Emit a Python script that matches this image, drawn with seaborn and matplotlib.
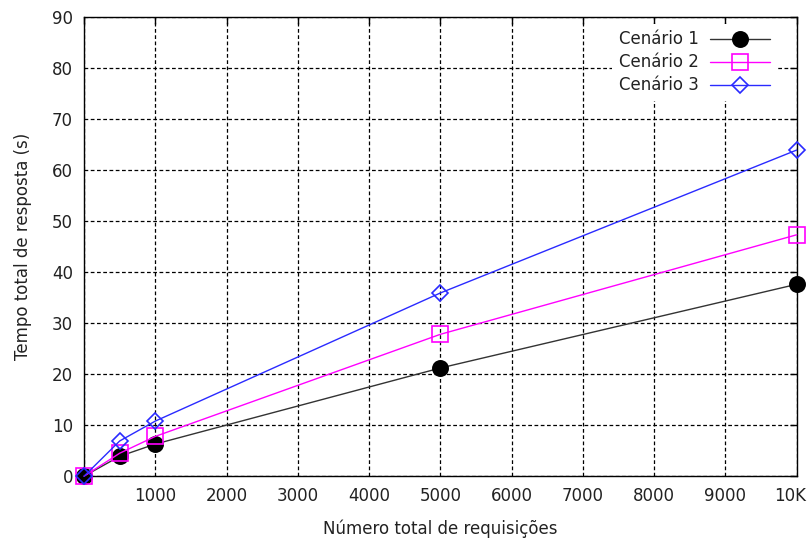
import pandas as pd
import matplotlib.pyplot as plt
import matplotlib.transforms as mtransforms
import seaborn as sns

requisicoes = [0, 500, 1000, 5000, 10000]
cenario1 = [0.0, 3.9, 6.3, 21.2, 37.6]
cenario2 = [0.0, 4.5, 7.8, 27.8, 47.3]
cenario3 = [0.0, 6.9, 10.8, 35.9, 63.9]

x_ticks = [0, 1000, 2000, 3000, 4000, 5000, 6000, 7000, 8000, 9000, 10000]
x_labels = ['', '1000', '2000', '3000', '4000', '5000', '6000', '7000', '8000', '9000', '10K']

sns.set_style('white')
plt.rcParams['font.family'] = ['DejaVu Sans']

fig, ax = plt.subplots(figsize=(8.08, 5.43), dpi=100)

series = [
    ('Cenário 1', cenario1, '#333333', 'o', 11, '#000000', 'black'),
    ('Cenário 2', cenario2, '#ff00ff', 's', 11, 'none', '#ff00ff'),
    ('Cenário 3', cenario3, '#2a2aff', 'D', 8, 'none', '#2a2aff'),
]
for nome, valores, cor, mk, ms, face, borda in series:
    sns.lineplot(x=requisicoes, y=valores, ax=ax, color=cor, linewidth=1,
                 marker=mk, markersize=ms, markerfacecolor=face,
                 markeredgecolor=borda, markeredgewidth=1.2, label=nome,
                 clip_on=False, zorder=3)

ax.set_xlim(0, 10000)
ax.set_ylim(0, 90)
ax.set_xticks(x_ticks)
ax.set_xticklabels(x_labels)
ax.set_yticks(range(0, 91, 10))
ax.grid(True, color='black', linestyle=(0, (3, 2)), linewidth=0.9)
ax.tick_params(direction='in', length=5, width=1, labelsize=12,
               top=True, right=True, colors='black', labelcolor='#222222')
ax.tick_params(axis='x', pad=8)
ax.tick_params(axis='y', pad=8)
for s in ax.spines.values():
    s.set_color('black')
    s.set_linewidth(1)

# desloca o rótulo "10K" um pouco para a esquerda
ult = ax.get_xticklabels()[-1]
ult.set_transform(ult.get_transform() + mtransforms.ScaledTranslation(-0.07, 0, fig.dpi_scale_trans))

ax.set_xlabel('Número total de requisições', fontsize=12, labelpad=10, color='#222222')
ax.set_ylabel('Tempo total de resposta (s)', fontsize=12, labelpad=14, color='#222222')

leg = ax.legend(loc='upper right', bbox_to_anchor=(0.972, 0.985), markerfirst=False,
                frameon=True, fontsize=12, handlelength=3.6, borderaxespad=0,
                labelspacing=0.3, handletextpad=0.7, borderpad=0.4)
leg.get_frame().set_facecolor('white')
leg.get_frame().set_edgecolor('none')
leg.get_frame().set_alpha(1)
leg.set_zorder(5)
for t in leg.get_texts():
    t.set_color('#222222')

plt.subplots_adjust(left=0.104, right=0.986, top=0.969, bottom=0.123)
plt.savefig('out.png', dpi=100)
